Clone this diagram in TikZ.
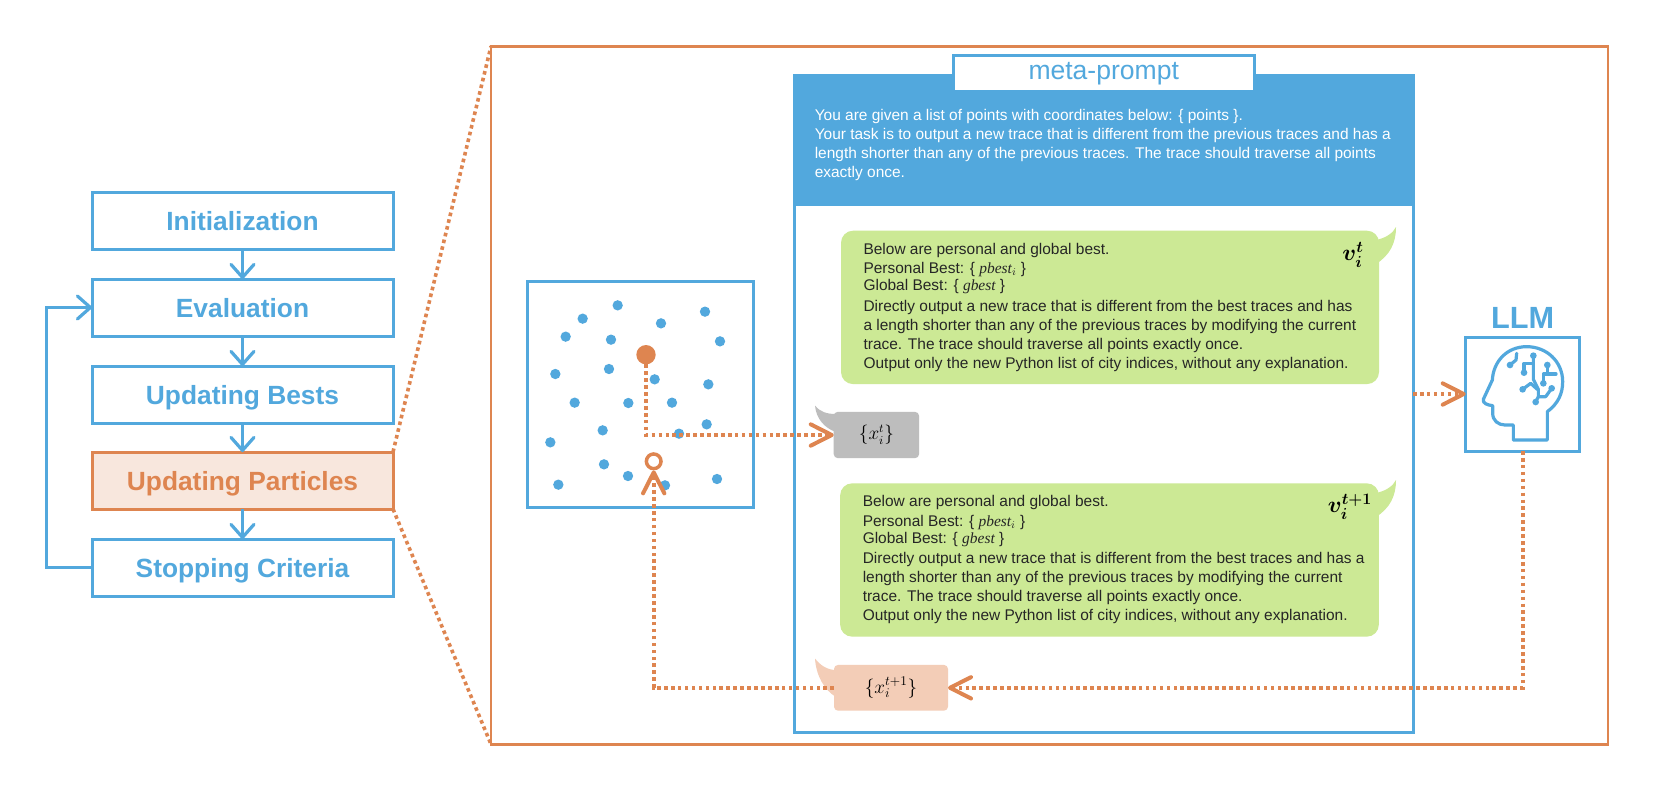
\documentclass[tikz,border=0pt]{standalone}
\usepackage[no-math]{fontspec}
\setmainfont{Liberation Sans}
\newfontfamily\lsi{Liberation Serif}
\usetikzlibrary{arrows.meta}
\definecolor{cblue}{HTML}{52A8DD}
\definecolor{corange}{HTML}{DE8550}
\definecolor{cpart}{HTML}{F8E7DD}
\definecolor{cgreen}{HTML}{CCE995}
\definecolor{cpeach}{HTML}{F3CDB7}
\definecolor{cgray}{HTML}{BDBDBD}
\tikzset{
  flowbox/.style={draw=cblue,line width=2.25pt,fill=white,minimum width=225.75pt,minimum height=42.75pt,inner sep=0pt,outer sep=0pt,text=cblue,text height=15.5pt,text depth=0pt,font=\fontsize{19.75}{24}\selectfont\bfseries},
  flowarrow/.style={draw=cblue,line width=2.25pt,-{Straight Barb[length=9.75pt,width=17.25pt,round,line width=2.4pt]}},
  dotline/.style={draw=corange,line width=2.7pt,dash pattern=on 2.7pt off 2.5pt},
  dotarrow/.style={dotline,-{Straight Barb[length=15.75pt,width=16pt,round,line width=3pt]}},
  pt/.style={fill=cblue},
  bubble/.style={fill=cgreen,rounded corners=9pt},
  bubtext/.style={anchor=west,align=left,inner sep=0pt,text=black!85,font=\fontsize{11.6}{14.25}\selectfont},
  iconline/.style={draw=cblue,line width=2.4pt,line join=round,line cap=round},
}
\begin{document}
\begin{tikzpicture}[x=0.75pt,y=-0.75pt]
\useasboundingbox (0,0) rectangle (1660,789);
\fill[white] (0,0) rectangle (1660,789);
% big frame
\node[draw=corange,line width=1.9pt,minimum width=837.75pt,minimum height=523.5pt,inner sep=0pt,outer sep=0pt] (big) at (1049.5,395.25) {};
% flow boxes
\node[flowbox] (init) at (242.5,220.5) {Initialization};
\node[flowbox] (eval) at (242.5,307.5) {Evaluation};
\node[flowbox] (bests) at (242.5,394.5) {Updating Bests};
\node[flowbox,draw=corange,fill=cpart,text=corange] (part) at (242.5,480.5) {Updating Particles};
\node[flowbox] (stop) at (242.5,567.5) {Stopping Criteria};
\draw[flowarrow] (init) -- (eval);
\draw[flowarrow] (eval) -- (bests);
\draw[flowarrow] (bests) -- (part);
\draw[flowarrow] (part) -- (stop);
\coordinate (loopa) at (46,567.5);
\coordinate (loopb) at (46,307.5);
\draw[flowarrow,line join=miter] (stop.west) -- (loopa) -- (loopb) -- (eval.west);
\draw[dotline] (part.north east) -- (big.north west);
\draw[dotline] (part.south east) -- (big.south west);
% panel
\node[draw=cblue,line width=2.25pt,minimum width=464.25pt,minimum height=492.75pt,inner sep=0pt,outer sep=0pt] (panel) at (1103.5,403.7) {};
\fill[cblue] (794,75.7) rectangle (1413,206);
\node[draw=cblue,line width=2.25pt,fill=white,minimum width=225.5pt,minimum height=27pt,inner sep=0pt,outer sep=0pt,text=cblue,font=\fontsize{19.9}{23}\selectfont] (title) at (1103.7,73.7) {meta-prompt};
\node[bubtext,text=white,font=\fontsize{11.6}{14.25}\selectfont] (sys) at (814.5,144.5) {You are given a list of points with coordinates below: \{ points \}.\\
Your task is to output a new trace that is different from the previous traces and has a\\
length shorter than any of the previous traces. The trace should traverse all points\\
exactly once.};
% bubbles
\fill[cgreen] (1376,240) .. controls (1386,238) and (1393,233) .. (1396,227) .. controls (1396,243) and (1390,255) .. (1376,264) -- cycle;
\node[bubble,minimum width=403.5pt,minimum height=115pt,inner sep=0pt,outer sep=0pt] (b1) at (1110,307.4) {};
\node[bubtext] (t1) at (863.3,307.2) {Below are personal and global best.\\
Personal Best: \{ {\lsi\itshape pbest}$_i$ \}\\[-1.3pt]
Global Best: \{ {\lsi\itshape gbest} \}\\[1.2pt]
Directly output a new trace that is different from the best traces and has\\
a length shorter than any of the previous traces by modifying the current\\
trace. The trace should traverse all points exactly once.\\
Output only the new Python list of city indices, without any explanation.};
\node[inner sep=0pt,font=\fontsize{17.6}{20}\selectfont\boldmath] (v1) at (1353,255) {$v_i^t$};
\fill[cgreen] (1376,493) .. controls (1386,491) and (1393,486) .. (1396,480) .. controls (1396,496) and (1390,508) .. (1376,517) -- cycle;
\node[bubble,minimum width=404pt,minimum height=115pt,inner sep=0pt,outer sep=0pt] (b2) at (1109.5,560) {};
\node[bubtext] (t2) at (862.5,559.7) {Below are personal and global best.\\[0.7pt]
Personal Best: \{ {\lsi\itshape pbest}$_i$ \}\\[-1.3pt]
Global Best: \{ {\lsi\itshape gbest} \}\\[1pt]
Directly output a new trace that is different from the best traces and has a\\
length shorter than any of the previous traces by modifying the current\\
trace. The trace should traverse all points exactly once.\\
Output only the new Python list of city indices, without any explanation.};
\node[inner sep=0pt,font=\fontsize{17.6}{20}\selectfont\boldmath] (v2) at (1350,507) {$v_i^{t+1}$};
% tails of the small bubbles
\fill[cgray] (815,405.5) .. controls (820,412) and (827,414) .. (836,414) -- (836,432) .. controls (824,428) and (816,418) .. (815,405.5) -- cycle;
\fill[cpeach] (815,658.5) .. controls (820,665) and (827,670) .. (836,670) -- (836,697) .. controls (824,690) and (816,675) .. (815,658.5) -- cycle;
\node[fill=cgray,rounded corners=3pt,minimum width=64pt,minimum height=34.7pt,inner sep=0pt,outer sep=0pt,font=\fontsize{13.5}{16}\selectfont] (gray) at (876.4,435) {$\{x_i^t\}$};
\node[fill=cpeach,rounded corners=3pt,minimum width=85.5pt,minimum height=34.3pt,inner sep=0pt,outer sep=0pt,font=\fontsize{14}{16}\selectfont] (peach) at (891,687.8) {$\{x_i^{t+1}\}$};
% scatter box
\node[draw=cblue,line width=2.25pt,minimum width=169.5pt,minimum height=169.5pt,inner sep=0pt,outer sep=0pt] (scatter) at (640,394) {};
\begin{scope}[shift={(510,260)},x=0.25pt,y=-0.25pt]
\foreach \a/\b in {323/136,218/176,167/230,303/239,453/190,585/155,630/244,297/327,136/342,434/358,595/373,194/428,355/429,486/428,278/511,590/493,507/521,121/547,282/613,354/648,145/674,465/676,621/657}
  \fill[pt] (\a,\b) circle (15.5);
\end{scope}
\node[circle,fill=corange,minimum size=14.5pt,inner sep=0pt,outer sep=0pt] (pbest) at (646,354.7) {};
\node[circle,draw=corange,line width=2.6pt,fill=white,minimum size=11pt,inner sep=0pt,outer sep=1.3pt] (pnew) at (653.7,461.3) {};
% LLM
\node[draw=cblue,line width=2.25pt,minimum width=85.5pt,minimum height=85.5pt,inner sep=0pt,outer sep=0pt] (llm) at (1522.7,394) {};
\node[inner sep=0pt,text=cblue,font=\fontsize{23}{27}\selectfont\bfseries] (llmt) at (1522.7,317.5) {LLM};
\begin{scope}[shift={(1400,290)},x=0.25pt,y=-0.25pt]
\draw[iconline] (340,405) -- (340,450) -- (442,450) -- (442,365) .. controls (475,340) and (488,310) .. (488,275) .. controls (488,215) and (440,170) .. (380,170) .. controls (320,170) and (280,215) .. (277,270) -- (250,328) .. controls (247,340) and (262,345) .. (278,347) -- (278,370) .. controls (278,392) and (295,405) .. (315,405) -- cycle;
\foreach \a/\b in {330/225,400/197,372/248,368/298,407/336,455/295,442/225,430/280}
  \fill[cblue] (\a,\b) circle (10);
\draw[iconline] (330,225) -- (348,210) -- (350,190);
\draw[iconline] (372,248) -- (372,220) -- (400,220);
\draw[iconline] (400,197) -- (400,268) -- (415,298) -- (415,320) -- (407,336);
\draw[iconline] (368,298) -- (392,280) -- (412,298);
\draw[iconline] (415,320) -- (437,320) -- (455,295);
\draw[iconline] (442,225) -- (442,252) -- (468,252);
\draw[iconline] (442,252) -- (430,252) -- (430,280);
\end{scope}
% dotted connectors
\draw[dotarrow] (pbest.south) |- (gray.west);
\draw[dotarrow] (peach.west) -| (pnew.south);
\draw[dotarrow] (panel.east |- llm.west) -- (llm.west);
\draw[dotarrow] (llm.south) |- (peach.east);
\end{tikzpicture}
\end{document}
